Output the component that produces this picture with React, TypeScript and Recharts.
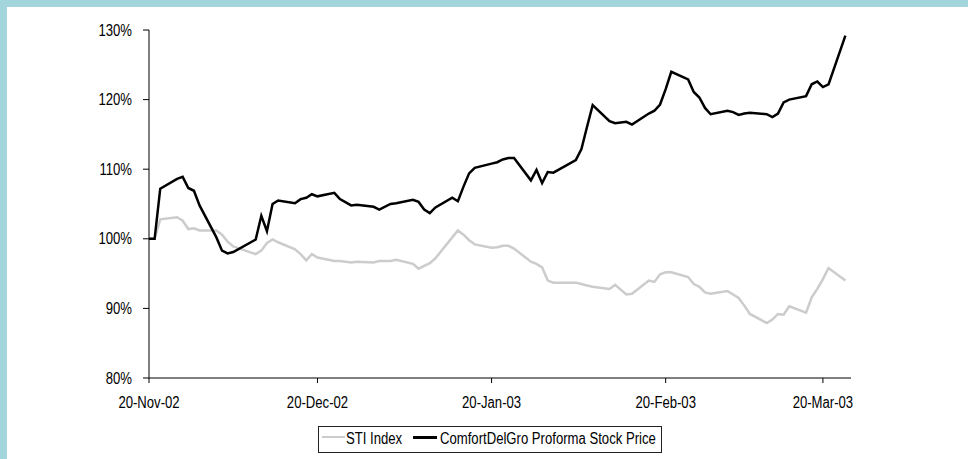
import { LineChart, Line, XAxis, YAxis } from "recharts";

// trading days (SGX), plotted on a calendar-day axis
const tradeDates = [
  "2002-11-20", "2002-11-21", "2002-11-22", "2002-11-25", "2002-11-26", "2002-11-27", "2002-11-28", "2002-11-29",
  "2002-12-02", "2002-12-03", "2002-12-04", "2002-12-05", "2002-12-09", "2002-12-10", "2002-12-11", "2002-12-12",
  "2002-12-13", "2002-12-16", "2002-12-17", "2002-12-18", "2002-12-19", "2002-12-20", "2002-12-23", "2002-12-24",
  "2002-12-26", "2002-12-27", "2002-12-30", "2002-12-31",
  "2003-01-02", "2003-01-03", "2003-01-06", "2003-01-07", "2003-01-08", "2003-01-09", "2003-01-10", "2003-01-13",
  "2003-01-14", "2003-01-15", "2003-01-16", "2003-01-17", "2003-01-20", "2003-01-21", "2003-01-22", "2003-01-23",
  "2003-01-24", "2003-01-27", "2003-01-28", "2003-01-29", "2003-01-30", "2003-01-31",
  "2003-02-04", "2003-02-05", "2003-02-06", "2003-02-07", "2003-02-10", "2003-02-11", "2003-02-13", "2003-02-14",
  "2003-02-17", "2003-02-18", "2003-02-19", "2003-02-20", "2003-02-21", "2003-02-24", "2003-02-25", "2003-02-26",
  "2003-02-27", "2003-02-28",
  "2003-03-03", "2003-03-04", "2003-03-05", "2003-03-06", "2003-03-07", "2003-03-10", "2003-03-11", "2003-03-12",
  "2003-03-13", "2003-03-14", "2003-03-17", "2003-03-18", "2003-03-19", "2003-03-20", "2003-03-21", "2003-03-24",
];

// % of 20-Nov-02 level
const stiIndex = [
  100, 100, 102.8, 103.1, 102.6, 101.4, 101.5, 101.2,
  101.2, 100.6, 99.6, 98.9, 97.8, 98.3, 99.4, 99.9, 99.5, 98.5, 97.8, 96.9, 97.8, 97.3, 96.8, 96.8,
  96.6, 96.7, 96.6, 96.8,
  96.8, 97.0, 96.4, 95.7, 96.1, 96.5, 97.2, 100.2, 101.2, 100.6, 99.8, 99.2, 98.7, 98.8, 99.0, 99.0,
  98.6, 96.7, 96.4, 95.9, 94.0, 93.7,
  93.7, 93.5, 93.3, 93.1, 92.8, 93.4, 92.0, 92.1, 94.0, 93.8, 94.9, 95.2, 95.2, 94.5, 93.5, 93.1,
  92.3, 92.1,
  92.5, 92.0, 91.5, 90.4, 89.2, 87.9, 88.4, 89.2, 89.1, 90.3, 89.4, 91.6, 92.8, 94.2, 95.8, 94.0,
];

const cdgPrice = [
  100, 100, 107.2, 108.6, 108.9, 107.3, 106.9, 104.8,
  100.2, 98.3, 97.9, 98.1, 99.9, 103.3, 101.1, 105.0, 105.5, 105.1, 105.7, 105.9, 106.4, 106.1, 106.6, 105.7,
  104.8, 104.9, 104.6, 104.2,
  105.0, 105.1, 105.6, 105.3, 104.2, 103.7, 104.5, 105.9, 105.4, 107.5, 109.4, 110.2, 110.8, 111.0, 111.4, 111.6,
  111.6, 108.4, 109.9, 108.0, 109.6, 109.5,
  111.3, 112.9, 116.1, 119.2, 116.9, 116.6, 116.8, 116.4, 118.0, 118.4, 119.3, 121.5, 124.0, 122.9, 121.1, 120.3,
  118.8, 117.9,
  118.4, 118.2, 117.8, 118.0, 118.1, 117.9, 117.5, 118.0, 119.6, 120.0, 120.5, 122.2, 122.6, 121.8, 122.2, 129.2,
];

const tickDates = ["2002-11-20", "2002-12-20", "2003-01-20", "2003-02-20", "2003-03-20"];
const tickLabels = ["20-Nov-02", "20-Dec-02", "20-Jan-03", "20-Feb-03", "20-Mar-03"];
const axisEnd = "2003-03-25";
const yTicks = [80, 90, 100, 110, 120, 130];

const DAY = 86400000;
const start = Date.parse(tradeDates[0]);
const dayOf = (d: string) => Math.round((Date.parse(d) - start) / DAY);

const data = tradeDates.map((d, i) => ({ day: dayOf(d), sti: stiIndex[i], cdg: cdgPrice[i] }));
const xTicks = tickDates.map(dayOf);

// no Arial Narrow here, so squeeze Liberation Sans horizontally
const FONT = "'Liberation Sans', Arial, sans-serif";
const NARROW = 0.82;

function XTick({ x, y, payload }: any) {
  const label = tickLabels[xTicks.indexOf(payload.value)] ?? "";
  return (
    <g transform={`translate(${x},${y})`}>
      <text transform={`scale(${NARROW},1)`} textAnchor="middle" dy="0.71em" fill="#000" fontSize={16} fontFamily={FONT}>
        {label}
      </text>
    </g>
  );
}

function YTick({ x, y, payload }: any) {
  return (
    <g transform={`translate(${x},${y})`}>
      <text transform={`scale(${NARROW},1)`} textAnchor="end" dy="0.355em" fill="#000" fontSize={16} fontFamily={FONT}>
        {`${payload.value}%`}
      </text>
    </g>
  );
}

const legendText = {
  position: "absolute" as const,
  top: 3,
  fontFamily: FONT,
  fontSize: 16,
  lineHeight: "18px",
  color: "#000",
  whiteSpace: "nowrap" as const,
  transform: `scaleX(${NARROW})`,
  transformOrigin: "left center",
};

export default function App() {
  return (
    <div style={{ position: "relative", width: 968, height: 459, background: "#a3d5dc", overflow: "hidden" }}>
      <style>{"body{margin:0}"}</style>
      <div style={{ position: "absolute", left: 7, top: 7, width: 961, height: 452, background: "#fff" }} />
      <div style={{ position: "absolute", left: 0, top: 0 }}>
        <LineChart width={968} height={459} data={data} margin={{ top: 30, right: 117, left: 0, bottom: 0 }}>
          <XAxis
            dataKey="day"
            type="number"
            domain={[0, dayOf(axisEnd)]}
            ticks={xTicks}
            height={81}
            tick={<XTick />}
            tickSize={5}
            tickMargin={14}
            axisLine={{ stroke: "#000", strokeWidth: 1 }}
            tickLine={{ stroke: "#000" }}
          />
          <YAxis
            type="number"
            domain={[80, 130]}
            ticks={yTicks}
            width={149}
            tick={<YTick />}
            tickSize={6}
            tickMargin={11}
            axisLine={{ stroke: "#000", strokeWidth: 1 }}
            tickLine={{ stroke: "#000" }}
          />
          <Line type="linear" dataKey="sti" stroke="#cccccc" strokeWidth={2.5} dot={false} isAnimationActive={false} />
          <Line type="linear" dataKey="cdg" stroke="#000" strokeWidth={2.5} dot={false} isAnimationActive={false} />
        </LineChart>
      </div>
      <div
        style={{
          position: "absolute",
          left: 318,
          top: 426,
          width: 342,
          height: 25,
          border: "1px solid #222",
          background: "#fff",
        }}
      >
        <div style={{ position: "absolute", left: 3, top: 9, width: 23, height: 2, background: "#cccccc" }} />
        <div style={{ ...legendText, left: 27 }}>STI Index</div>
        <div style={{ position: "absolute", left: 94, top: 9, width: 24, height: 3, background: "#000" }} />
        <div style={{ ...legendText, left: 121 }}>ComfortDelGro Proforma Stock Price</div>
      </div>
    </div>
  );
}
